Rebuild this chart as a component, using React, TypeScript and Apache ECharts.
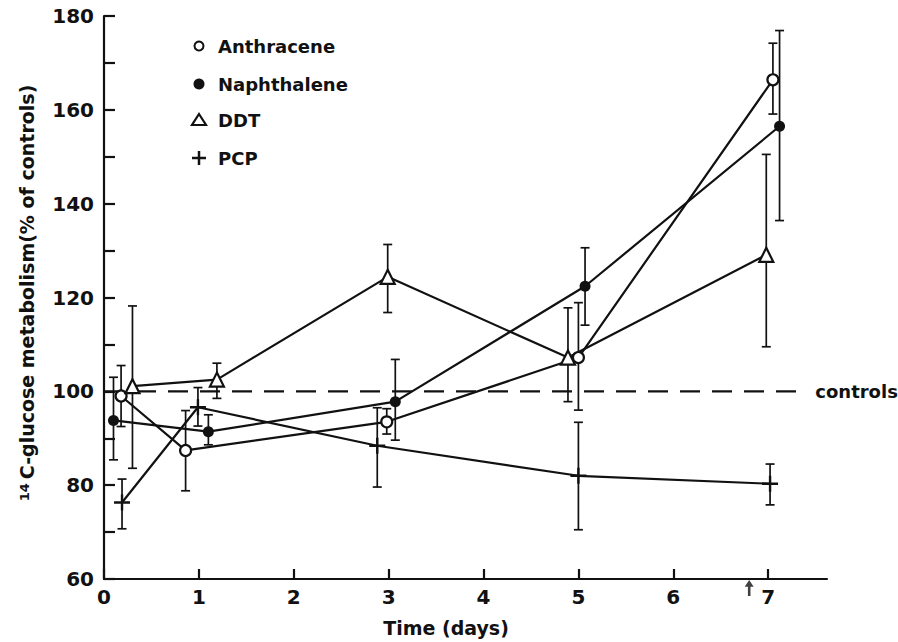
import React, { useEffect, useRef } from 'react';
import * as echarts from 'echarts';

// ---- Data ----
const xTickValues = [0, 1, 2, 3, 4, 5, 6, 7];
const seriesNames = ['Anthracene', 'Naphthalene', 'DDT', 'PCP'];

const anthraceneX = [0.18, 0.86, 2.98, 5.0, 7.05];
const anthraceneY = [99, 87.4, 93.5, 107.2, 166.4];
const anthraceneLow = [92.5, 78.8, 90.9, 96, 159.1];
const anthraceneHigh = [105.5, 95.9, 96.3, 118.9, 174.2];

const naphthaleneX = [0.1, 1.1, 3.07, 5.07, 7.12];
const naphthaleneY = [93.8, 91.4, 97.8, 122.4, 156.5];
const naphthaleneLow = [85.4, 88.6, 89.6, 114.1, 136.4];
const naphthaleneHigh = [103, 95, 106.8, 130.6, 176.9];

const ddtX = [0.3, 1.19, 2.99, 4.89, 6.98];
const ddtY = [101.1, 102.5, 124.4, 107.2, 129.1];
const ddtLow = [83.6, 98.5, 116.8, 97.8, 109.5];
const ddtHigh = [118.2, 106, 131.3, 117.8, 150.5];

const pcpX = [0.19, 0.99, 2.88, 5.0, 7.02];
const pcpY = [76.3, 96.6, 88.4, 82, 80.3];
const pcpLow = [70.7, 92.6, 79.6, 70.5, 75.8];
const pcpHigh = [81.3, 100.8, 96.5, 93.4, 84.5];

const controlsX = [0, 7.37];
const controlsY = [100, 100];
const arrowDay = [6.8];

const INK = '#111';
const FONT = 'DejaVu Sans';

const PLUS_PATH =
  'path://M-1,-0.15H-0.15V-1H0.15V-0.15H1V0.15H0.15V1H-0.15V0.15H-1Z';
const ARROW_PATH = 'path://M0,0L3.5,6L1,6L1,14L-1,14L-1,6L-3.5,6Z';

function errorSeries(xs: number[], lows: number[], highs: number[]) {
  return {
    type: 'custom',
    silent: true,
    z: 1,
    encode: { x: 0, y: [1, 2] },
    data: xs.map((x, i) => [x, lows[i], highs[i]]),
    renderItem: (_params: any, api: any) => {
      const x = api.value(0);
      const lo = api.coord([x, api.value(1)]);
      const hi = api.coord([x, api.value(2)]);
      const hw = 4.5;
      const st = { stroke: INK, lineWidth: 1.7 };
      return {
        type: 'group',
        children: [
          { type: 'line', shape: { x1: lo[0], y1: lo[1], x2: hi[0], y2: hi[1] }, style: st },
          { type: 'line', shape: { x1: lo[0] - hw, y1: lo[1], x2: lo[0] + hw, y2: lo[1] }, style: st },
          { type: 'line', shape: { x1: hi[0] - hw, y1: hi[1], x2: hi[0] + hw, y2: hi[1] }, style: st },
        ],
      };
    },
  };
}

function lineSeries(
  name: string,
  xs: number[],
  ys: number[],
  symbol: string,
  size: number,
  filled: boolean,
) {
  return {
    name,
    type: 'line',
    z: 3,
    data: xs.map((x, i) => [x, ys[i]]),
    symbol,
    symbolSize: size,
    showAllSymbol: true,
    lineStyle: { color: INK, width: 2.2 },
    itemStyle: {
      color: filled ? INK : '#fff',
      borderColor: INK,
      borderWidth: filled ? 0 : 2.2,
    },
  };
}

export default function App() {
  const ref = useRef<HTMLDivElement>(null);

  useEffect(() => {
    if (!ref.current) return;
    const chart = echarts.init(ref.current, undefined, { renderer: 'svg' });

    const legendRows = [46, 84, 120, 158];
    const sx = 199;

    chart.setOption({
      animation: false,
      backgroundColor: '#fff',
      grid: { left: 104, top: 16, right: 71, bottom: 63, containLabel: false },
      xAxis: {
        type: 'value',
        min: 0,
        max: 7.62,
        interval: 1,
        splitLine: { show: false },
        axisLine: { show: true, lineStyle: { color: INK, width: 2.2 } },
        axisTick: {
          show: true,
          inside: true,
          length: 10,
          customValues: xTickValues,
          lineStyle: { color: INK, width: 2.2 },
        },
        axisLabel: {
          customValues: xTickValues,
          color: INK,
          fontFamily: FONT,
          fontWeight: 'bold',
          fontSize: 20,
          margin: 8,
        },
      },
      yAxis: {
        type: 'value',
        min: 60,
        max: 180,
        interval: 10,
        splitLine: { show: false },
        axisLine: { show: true, lineStyle: { color: INK, width: 2.2 } },
        axisTick: { show: true, inside: true, length: 11, lineStyle: { color: INK, width: 2.2 } },
        axisLabel: {
          color: INK,
          fontFamily: FONT,
          fontWeight: 'bold',
          fontSize: 20,
          margin: 10,
          formatter: (v: number) => (v % 20 === 0 ? String(v) : ''),
        },
      },
      series: [
        {
          name: 'controls',
          type: 'line',
          z: 2,
          data: controlsX.map((x, i) => [x, controlsY[i]]),
          symbol: 'none',
          lineStyle: { color: INK, width: 2.2, type: [20, 12] },
          endLabel: {
            show: true,
            formatter: 'controls',
            color: INK,
            fontFamily: FONT,
            fontWeight: 'bold',
            fontSize: 18,
            distance: 12,
          },
        },
        errorSeries(anthraceneX, anthraceneLow, anthraceneHigh),
        errorSeries(naphthaleneX, naphthaleneLow, naphthaleneHigh),
        errorSeries(ddtX, ddtLow, ddtHigh),
        errorSeries(pcpX, pcpLow, pcpHigh),
        lineSeries(seriesNames[0], anthraceneX, anthraceneY, 'circle', 11, false),
        lineSeries(seriesNames[1], naphthaleneX, naphthaleneY, 'circle', 11, true),
        lineSeries(seriesNames[2], ddtX, ddtY, 'triangle', 14, false),
        lineSeries(seriesNames[3], pcpX, pcpY, PLUS_PATH, 16, true),
        {
          type: 'scatter',
          silent: true,
          clip: false,
          z: 4,
          data: arrowDay.map((d) => [d, 60]),
          symbol: ARROW_PATH,
          symbolSize: [9, 16],
          symbolOffset: [0, 9],
          itemStyle: { color: INK },
        },
      ],
      graphic: [
        // legend symbols
        { type: 'circle', shape: { cx: sx, cy: legendRows[0], r: 4.5 }, style: { fill: '#fff', stroke: INK, lineWidth: 2 } },
        { type: 'circle', shape: { cx: sx, cy: legendRows[1], r: 5.5 }, style: { fill: INK } },
        {
          type: 'polygon',
          shape: { points: [[sx, legendRows[2] - 6], [sx + 7, legendRows[2] + 5], [sx - 7, legendRows[2] + 5]] },
          style: { fill: '#fff', stroke: INK, lineWidth: 2.2 },
        },
        { type: 'line', shape: { x1: sx - 7, y1: legendRows[3], x2: sx + 7, y2: legendRows[3] }, style: { stroke: INK, lineWidth: 2.5 } },
        { type: 'line', shape: { x1: sx, y1: legendRows[3] - 7, x2: sx, y2: legendRows[3] + 7 }, style: { stroke: INK, lineWidth: 2.5 } },
        ...seriesNames.map((n, i) => ({
          type: 'text',
          x: 218,
          y: legendRows[i],
          style: { text: n, fill: INK, font: `bold 18px "${FONT}"`, verticalAlign: 'middle', align: 'left' },
        })),
        // axis titles
        {
          type: 'text',
          x: 446,
          y: 628,
          style: { text: 'Time (days)', fill: INK, font: `bold 19px "${FONT}"`, align: 'center', verticalAlign: 'middle' },
        },
        {
          type: 'text',
          x: 27,
          y: 293,
          rotation: Math.PI / 2,
          style: {
            text: '{sup|14}{m|C-glucose metabolism(% of controls)}',
            fill: INK,
            align: 'center',
            verticalAlign: 'middle',
            rich: {
              sup: { fontSize: 13, fontWeight: 'bold', fontFamily: FONT, fill: INK, verticalAlign: 'top', padding: [0, 4, 0, 0] },
              m: { fontSize: 19, fontWeight: 'bold', fontFamily: FONT, fill: INK },
            },
          },
        },
      ],
    });

    return () => chart.dispose();
  }, []);

  return <div ref={ref} style={{ width: 898, height: 642, position: 'absolute', left: 0, top: 0 }} />;
}
